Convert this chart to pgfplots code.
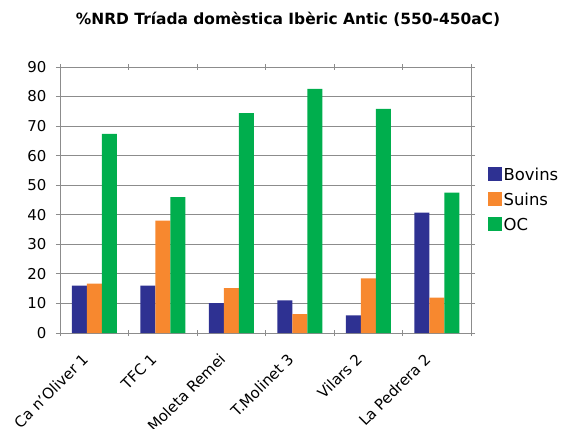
\documentclass[border=0pt]{standalone}
\usepackage{fontspec}
\setmainfont{DejaVu Sans}
\usepackage{pgfplots}
\pgfplotsset{compat=1.18}
\definecolor{cBov}{HTML}{2E3192}
\definecolor{cSui}{HTML}{F7882F}
\definecolor{cOC}{HTML}{00AE4D}
\definecolor{cGrid}{HTML}{8C8C8C}
\begin{document}
\begin{tikzpicture}[x=1bp,y=1bp]
\useasboundingbox (-60,-95) rectangle (504,333);
\begin{axis}[
  at={(0,0)}, anchor=south west,
  scale only axis, width=411bp, height=266bp,
  ybar=0pt, bar width=15bp,
  xmin=-0.5, xmax=5.5, ymin=0, ymax=90,
  ytick={0,10,...,90},
  xtick={0,...,5},
  xticklabels={Ca n'Oliver 1, TFC 1, Moleta Remei, T.Molinet 3, Vilars 2, La Pedrera 2},
  minor xtick={-0.5,0.5,...,5.5},
  xticklabel style={rotate=45, anchor=north east, inner sep=0pt, xshift=-20bp, yshift=-1.5bp, font=\fontsize{15}{17}\selectfont},
  yticklabel style={font=\fontsize{15}{17}\selectfont, xshift=-6bp},
  /pgf/number format/assume math mode=true,
  tick align=center,
  major x tick style={draw=none},
  minor tick length=6bp,
  major tick length=8bp,
  axis line style={cGrid, line width=1pt},
  every tick/.style={cGrid, line width=0.8pt},
  ymajorgrids, grid style={cGrid, line width=0.8pt},
  legend style={at={(1.04,0.5)}, anchor=west, draw=none, fill=none,
    font=\fontsize{16.5}{18}\selectfont, row sep=7pt, inner sep=0pt,
    /tikz/every even column/.append style={column sep=3pt}},
  legend cell align=left,
  legend image code/.code={\fill[#1] (0bp,-6bp) rectangle (14bp,8bp);},
]
\addplot[fill=cBov, draw=none] coordinates {(0,16.0) (1,16.0) (2,10.1) (3,11.0) (4,6.0) (5,40.7)};
\addplot[fill=cSui, draw=none] coordinates {(0,16.7) (1,38.0) (2,15.2) (3,6.4) (4,18.5) (5,12.0)};
\addplot[fill=cOC, draw=none] coordinates {(0,67.4) (1,46.0) (2,74.4) (3,82.6) (4,75.8) (5,47.5)};
\legend{Bovins, Suins, OC}
\end{axis}
\node[font=\fontsize{15.5}{17}\selectfont\bfseries] at (228,314) {\%NRD Tríada domèstica Ibèric Antic (550-450aC)};
\end{tikzpicture}
\end{document}
